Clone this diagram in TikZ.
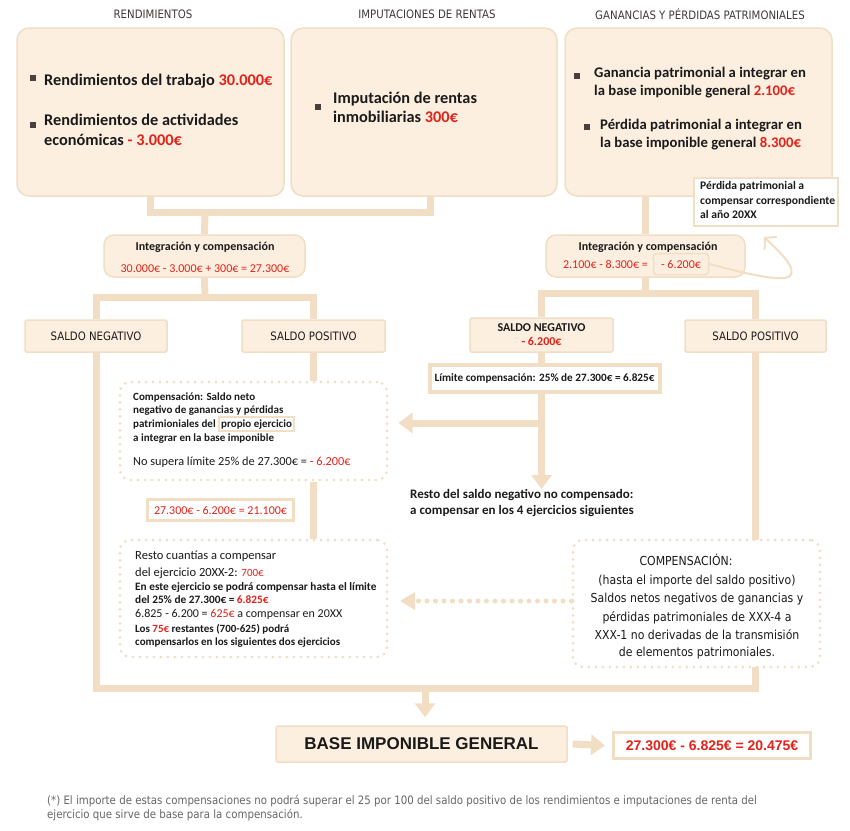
\documentclass[tikz,border=0pt]{standalone}
\usepackage{fontspec}
\setmainfont{Carlito}
\newfontfamily\tah[FakeStretch=0.88]{DejaVu Sans}
\newfontfamily\arl{Liberation Sans}
\usetikzlibrary{arrows.meta,calc}
\definecolor{cream}{HTML}{FCEFE0}
\definecolor{boxborder}{HTML}{F0DEC6}
\definecolor{connc}{HTML}{F1DEC5}
\definecolor{redc}{HTML}{E2231A}
\definecolor{hdr}{HTML}{3F3838}
\definecolor{bulc}{HTML}{4A3F3A}
\definecolor{txt}{HTML}{1A1A1A}
\definecolor{footc}{HTML}{666666}
\newcommand{\rd}[1]{\textcolor{redc}{#1}}
\newcommand{\fsz}[2]{\fontsize{#1}{#2}\selectfont}
\pgfdeclarelayer{bg}
\pgfsetlayers{bg,main}
\begin{document}
\begin{tikzpicture}[x=1pt,y=-1pt,
  ln/.style={anchor=base west, inner sep=0pt, text=txt},
  lnc/.style={anchor=base, inner sep=0pt, text=txt},
  bigbox/.style={draw=boxborder, fill=cream, line width=1.5pt, rounded corners=12pt, inner sep=0pt},
  intbox/.style={draw=boxborder, fill=cream, line width=1.5pt, rounded corners=10pt, inner sep=0pt},
  sbox/.style={draw=boxborder, fill=cream, line width=1.5pt, rounded corners=1.5pt, inner sep=0pt, text=txt},
  wbox/.style={draw=connc, fill=white, line width=4pt, inner sep=0pt},
  dbox/.style={draw=connc, fill=white, line width=3pt, dash pattern=on 0pt off 7pt, line cap=round, rounded corners=10pt, inner sep=0pt},
  conn/.style={draw=connc, line width=7pt},
  fat/.style={conn, -{Triangle[width=20pt,length=14pt]}},
  bul/.style={fill=bulc, minimum size=5.5pt, inner sep=0pt}
]
\useasboundingbox (0,0) rectangle (850,830);

% headers
\node[lnc, text=hdr, font=\tah\fsz{11.6}{13}] (hR) at (153,18) {RENDIMIENTOS};
\node[lnc, text=hdr, font=\tah\fsz{11.6}{13}] (hI) at (427,18) {IMPUTACIONES DE RENTAS};
\node[lnc, text=hdr, font=\tah\fsz{11.6}{13}] (hG) at (700,19) {GANANCIAS Y PÉRDIDAS PATRIMONIALES};

% top boxes
\node[bigbox, minimum width=267pt, minimum height=168pt] (b1) at (150.5,112) {};
\node[bigbox, minimum width=266pt, minimum height=168pt] (b2) at (424,112) {};
\node[bigbox, minimum width=267pt, minimum height=168pt] (b3) at (698.5,112) {};

\node[bul] (bu1) at (33,78) {};
\node[bul] (bu2) at (33,125) {};
\node[ln, font=\bfseries\fsz{16.3}{18}] (t1a) at (44,85) {Rendimientos del trabajo \rd{30.000€}};
\node[ln, font=\bfseries\fsz{16.3}{18}] (t1b) at (44,125) {Rendimientos de actividades};
\node[ln, font=\bfseries\fsz{16.3}{18}] (t1c) at (44,145) {económicas \rd{- 3.000€}};

\node[bul] (bu3) at (318,107) {};
\node[ln, font=\bfseries\fsz{16.3}{18}] (t2a) at (333,103) {Imputación de rentas};
\node[ln, font=\bfseries\fsz{16.3}{18}] (t2b) at (333,122) {inmobiliarias \rd{300€}};

\node[bul] (bu4) at (577,76) {};
\node[bul] (bu5) at (587,127) {};
\node[ln, font=\bfseries\fsz{14.7}{17}] (t3a) at (594,77) {Ganancia patrimonial a integrar en};
\node[ln, font=\bfseries\fsz{14.7}{17}] (t3b) at (594,95) {la base imponible general \rd{2.100€}};
\node[ln, font=\bfseries\fsz{14.7}{17}] (t3c) at (600,129) {Pérdida patrimonial a integrar en};
\node[ln, font=\bfseries\fsz{14.7}{17}] (t3d) at (600,147) {la base imponible general \rd{8.300€}};

% note box
\node[draw=boxborder, fill=white, line width=1.5pt, minimum width=144pt, minimum height=48pt, inner sep=0pt] (note) at (766,202) {};
\node[ln, font=\bfseries\fsz{11.6}{14}] (n1) at (700,189) {Pérdida patrimonial a};
\node[ln, font=\bfseries\fsz{11.6}{14}] (n2) at (700,204) {compensar correspondiente};
\node[ln, font=\bfseries\fsz{11.6}{14}] (n3) at (700,218) {al año 20XX};

% integration boxes
\node[intbox, minimum width=201pt, minimum height=42pt] (int1) at (204.5,256) {};
\node[lnc, font=\bfseries\fsz{12}{14}] (i1a) at (205,250) {Integración y compensación};
\node[lnc, font=\fsz{12}{14}, text=redc] (i1b) at (205,272) {30.000€ - 3.000€ + 300€ = 27.300€};

\node[intbox, minimum width=199pt, minimum height=42pt] (int2) at (645.5,256) {};
\node[lnc, font=\bfseries\fsz{12}{14}] (i2a) at (648,250) {Integración y compensación};
\node[anchor=base east, inner sep=0pt, font=\fsz{12}{14}, text=redc] (i2b) at (648,268) {2.100€ - 8.300€ =};
\node[draw=boxborder, line width=1.5pt, rounded corners=3pt, minimum width=55pt, minimum height=21pt, inner sep=0pt, text height=8pt, text depth=0pt, font=\fsz{12}{14}, text=redc] (pbox) at (681,264) {- 6.200€};

% saldo boxes
\node[sbox, minimum width=142pt, minimum height=32pt, font=\tah\fsz{11.6}{13}] (sn1) at (96,336) {SALDO NEGATIVO};
\node[sbox, minimum width=143pt, minimum height=32pt, font=\tah\fsz{11.6}{13}] (sp1) at (313.5,336) {SALDO POSITIVO};
\node[sbox, minimum width=143pt, minimum height=34pt, align=center, font=\bfseries\fsz{12}{14}] (sn2) at (541.5,335) {SALDO NEGATIVO\\\rd{- 6.200€}};
\node[sbox, minimum width=141pt, minimum height=32pt, font=\tah\fsz{11.6}{13}] (sp2) at (755.5,336) {SALDO POSITIVO};

% limit box
\node[wbox, minimum width=230pt, minimum height=27pt, font=\bfseries\fsz{11.2}{12}, text=txt] (lim) at (544.5,378) {Límite compensación: 25\% de 27.300€ = 6.825€};

% resto text
\node[anchor=north west, inner sep=0pt, align=left, text=txt, font=\bfseries\fsz{13}{16}] (rtext) at (410,489) {Resto del saldo negativo no compensado:\\a compensar en los 4 ejercicios siguientes};

% dotted box 1
\node[dbox, minimum width=267pt, minimum height=98pt] (d1) at (253.5,431) {};
\setlength{\fboxsep}{1.5pt}\setlength{\fboxrule}{1.5pt}
\node[ln, font=\bfseries\fsz{11}{12}] (d1a) at (133,400) {Compensación: Saldo neto};
\node[ln, font=\bfseries\fsz{11}{12}] (d1b) at (133,413.5) {negativo de ganancias y pérdidas};
\node[ln, font=\bfseries\fsz{11}{12}] (d1c) at (133,427) {patrimioniales del \fcolorbox{boxborder}{white}{propio ejercicio}};
\node[ln, font=\bfseries\fsz{11}{12}] (d1d) at (133,441) {a integrar en la base imponible};
\node[ln, font=\fsz{12.3}{14}] (d1e) at (133,465) {No supera límite 25\% de 27.300€ = \rd{- 6.200€}};

\node[wbox, line width=3.5pt, minimum width=146pt, minimum height=21pt, font=\fsz{12}{14}, text=redc] (r1) at (220.5,510) {27.300€ - 6.200€ = 21.100€};

% dotted box 2
\node[dbox, minimum width=267pt, minimum height=117pt] (d2) at (253.5,598.5) {};
\node[ln, font=\fsz{12.5}{15}] (d2a) at (135,559) {Resto cuantías a compensar};
\node[ln, font=\fsz{12.5}{15}] (d2b) at (135,576) {del ejercicio 20XX-2: \rd{\fsz{11}{13}700€}};
\node[ln, font=\bfseries\fsz{11.3}{12}] (d2c) at (135,590) {En este ejercicio se podrá compensar hasta el límite};
\node[ln, font=\bfseries\fsz{11.3}{12}] (d2d) at (135,603) {del 25\% de 27.300€ = \rd{6.825€}};
\node[ln, font=\fsz{12}{14}] (d2e) at (135,617) {6.825 - 6.200 = \rd{625€} a compensar en 20XX};
\node[ln, font=\bfseries\fsz{11}{12}] (d2f) at (135,632) {Los \rd{75€} restantes (700-625) podrá};
\node[ln, font=\bfseries\fsz{11}{12}] (d2g) at (135,645) {compensarlos en los siguientes dos ejercicios};

% dotted box 3
\node[dbox, minimum width=247pt, minimum height=127pt] (d3) at (696.5,603.5) {};
\node[lnc, font=\tah\fsz{12.4}{13}] (d3a) at (686,565) {COMPENSACIÓN:};
\node[lnc, font=\tah\fsz{12.4}{13}] (d3b) at (697,584) {(hasta el importe del saldo positivo)};
\node[lnc, font=\tah\fsz{12.4}{13}] (d3c) at (697,602) {Saldos netos negativos de ganancias y};
\node[lnc, font=\tah\fsz{12.4}{13}] (d3d) at (697,621) {pérdidas patrimoniales de XXX-4 a};
\node[lnc, font=\tah\fsz{12.4}{13}] (d3e) at (697,639) {XXX-1 no derivadas de la transmisión};
\node[lnc, font=\tah\fsz{12.4}{13}] (d3f) at (697,656) {de elementos patrimoniales.};

% base
\node[sbox, minimum width=291pt, minimum height=36pt, font=\arl\bfseries\fsz{17}{20}] (base) at (421.5,744) {BASE IMPONIBLE GENERAL};
\node[wbox, line width=3pt, minimum width=197pt, minimum height=26pt, font=\arl\bfseries\fsz{14}{16}, text=redc] (res) at (712,745.5) {27.300€ - 6.825€ = 20.475€};

% footnote
\node[ln, text=footc, font=\tah\fsz{11.6}{12}] (f1) at (47,804) {(*) El importe de estas compensaciones no podrá superar el 25 por 100 del saldo positivo de los rendimientos e imputaciones de renta del};
\node[ln, text=footc, font=\tah\fsz{11.6}{12}] (f2) at (47,818) {ejercicio que sirve de base para la compensación.};

% coordinates
\coordinate (j1) at (205,212);
\coordinate (j2) at (205,297);
\coordinate (j3) at (645.5,293);
\coordinate (j4) at (425,688);
\coordinate (brk) at (541.5,423);
\coordinate (dtip) at (400,601);
\coordinate (tipc) at (764,237);

\begin{pgfonlayer}{bg}
\draw[conn] (b1.south) |- (j1) -| ([xshift=6pt]b2.south);
\draw[conn] (j1) -- (int1.north);
\draw[conn] (int1.south) -- (j2);
\draw[conn] (sn1.north) |- (j2) -| (sp1.north);
\draw[conn] (int2.north) -- (int2.north |- b3.south);
\draw[conn] (int2.south) -- (j3);
\draw[conn] (sn2.north) |- (j3) -| (sp2.north);
\draw[conn] (sn2.south) -- (sn2.south |- lim.north);
\draw[fat] (lim.south -| sn2.south) -- (rtext.north -| sn2.south);
\draw[fat] (brk) -- ($(d1.east |- brk)+(10,0)$);
\draw[conn] (sp1.south) -- (sp1.south |- d1.north);
\draw[conn] (sp1.south |- d1.south) -- (sp1.south |- d2.north);
\draw[conn] (sn1.south) |- (j4) -| (sp2.south);
\draw[fat] (j4) -- ($(base.north -| j4)+(0,-8)$);
\draw[fat] ($(base.east)+(5,0)$) -- ($(res.west)+(-7,0)$);
\end{pgfonlayer}

% dotted arrow
\draw[draw=connc, line width=5pt, dash pattern=on 0pt off 8.5pt, line cap=round] (d3.west |- dtip) -- ($(dtip)+(14,0)$);
\fill[connc] (dtip) -- ++(15,-9) -- ++(0,18) -- cycle;

% curved arrow
\draw[draw=connc, line width=2pt, -{Straight Barb[length=8pt,width=18pt]}] (pbox.east) .. controls (740,272) and (782,283) .. (790,276) .. controls (797,268) and (780,252) .. (tipc);
\end{tikzpicture}
\end{document}
